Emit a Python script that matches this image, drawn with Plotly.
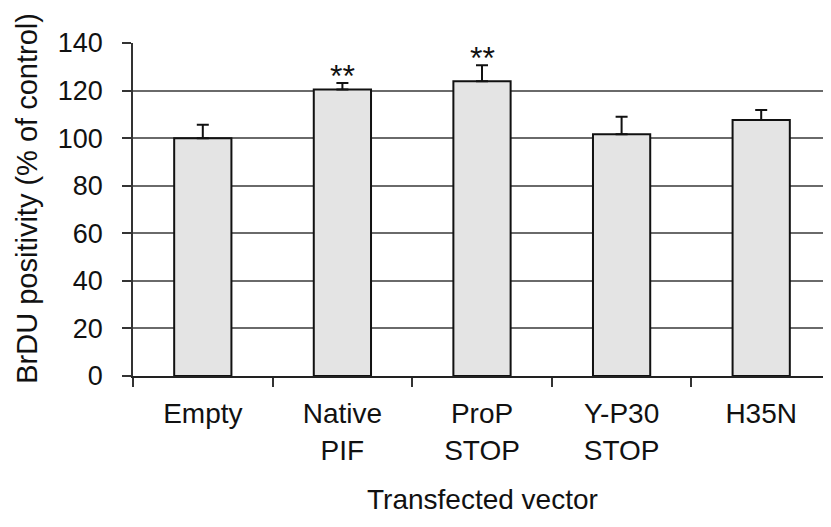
import plotly.graph_objects as go

categories = ["Empty", "Native<br>PIF", "ProP<br>STOP", "Y-P30<br>STOP", "H35N"]
means = [100.0, 120.5, 123.9, 101.6, 107.6]
err_plus = [5.6, 2.7, 6.7, 7.4, 4.2]
significance = ["", "**", "**", "", ""]
y_ticks = [0, 20, 40, 60, 80, 100, 120, 140]

FONT = "Liberation Sans, Arial, sans-serif"

fig = go.Figure()
fig.add_trace(go.Bar(
    x=categories, y=means, width=0.41,
    marker=dict(color="#e4e4e4", line=dict(color="#111111", width=2)),
    error_y=dict(type="data", symmetric=False, array=err_plus,
                 arrayminus=[0] * len(err_plus), color="#111111",
                 thickness=2, width=6),
    showlegend=False,
))

for c, m, e, s in zip(categories, means, err_plus, significance):
    if s:
        fig.add_annotation(x=c, y=m + e, text=s, showarrow=False,
                           yanchor="bottom", yshift=-13,
                           font=dict(family=FONT, size=32, color="#111111"))

fig.add_annotation(text="BrDU positivity (% of control)", textangle=-90,
                   xref="paper", yref="paper", x=-0.152, y=0.535,
                   xanchor="center", yanchor="middle", showarrow=False,
                   font=dict(family=FONT, size=29, color="#111111"))
fig.add_annotation(text="Transfected vector",
                   xref="paper", yref="paper", x=0.5, y=-0.37,
                   xanchor="center", yanchor="middle", showarrow=False,
                   font=dict(family=FONT, size=28, color="#111111"))

fig.update_layout(
    width=823, height=519,
    margin=dict(l=125, r=0, t=35, b=151, autoexpand=False),
    paper_bgcolor="white", plot_bgcolor="white",
    bargap=0.59,
)
fig.update_xaxes(
    type="category", range=[-0.5, 4.5], tickson="boundaries",
    ticks="outside", ticklen=9, tickwidth=1.5, tickcolor="#333333",
    showline=True, linecolor="#222222", linewidth=1.5,
    showgrid=False, ticklabelstandoff=12,
    tickfont=dict(family=FONT, size=28, color="#111111"),
)
fig.update_yaxes(
    range=[0, 140], tickvals=y_ticks,
    ticks="outside", ticklen=9, tickwidth=1.5, tickcolor="#333333",
    showline=True, linecolor="#333333", linewidth=1.5,
    showgrid=True, gridcolor="#6a6a6a", gridwidth=1.5, zeroline=False,
    ticklabelstandoff=14,
    tickfont=dict(family=FONT, size=27, color="#111111"),
)

fig.write_html("out.html")
